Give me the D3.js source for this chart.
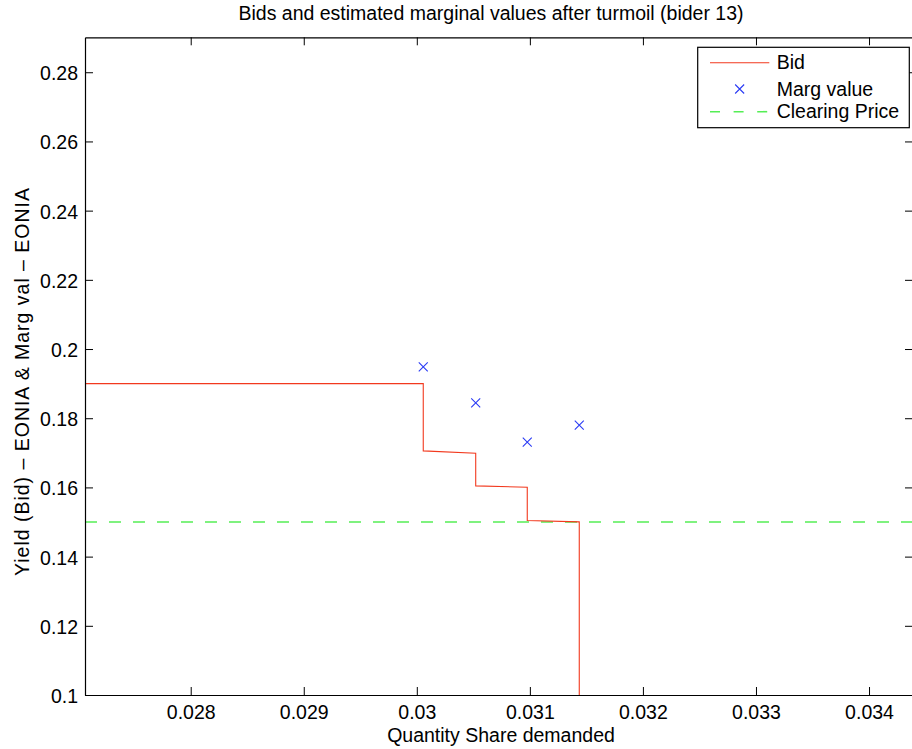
<!DOCTYPE html>
<html>
<head>
<meta charset="utf-8">
<script src="https://cdn.jsdelivr.net/npm/d3@7"></script>
<style>
  html, body { margin: 0; padding: 0; background: #fff; }
  svg { display: block; }
  text { font-family: "Liberation Sans", Arial, Helvetica, sans-serif; fill: #000; }
</style>
</head>
<body>
<script>
// ---- data ----
const bidQuantity = [0.0270, 0.030057, 0.030057, 0.030521, 0.030521, 0.030977, 0.030977, 0.031437, 0.031437];
const bidYield    = [0.1900, 0.1900,   0.17056,  0.16990,  0.16044,  0.16006,  0.15043,  0.15003,  0.1000];
const margQuantity = [0.030057, 0.030521, 0.030977, 0.031437];
const margValue    = [0.19485,  0.18444,  0.17308,  0.17800];
const clearingPrice = 0.15;
const xDomain = [0.027065, 0.034389];
const yDomain = [0.1, 0.2901];
const xTicks = [0.028, 0.029, 0.030, 0.031, 0.032, 0.033, 0.034];
const xTickLabels = ["0.028", "0.029", "0.03", "0.031", "0.032", "0.033", "0.034"];
const yTicks = [0.10, 0.12, 0.14, 0.16, 0.18, 0.20, 0.22, 0.24, 0.26, 0.28];
const yTickLabels = ["0.1", "0.12", "0.14", "0.16", "0.18", "0.2", "0.22", "0.24", "0.26", "0.28"];
const legendLabels = ["Bid", "Marg value", "Clearing Price"];
const titleText = "Bids and estimated marginal values after turmoil (bider 13)";
const xLabelText = "Quantity Share demanded";
const yLabelText = "Yield (Bid) \u2013 EONIA & Marg val \u2013 EONIA";

// ---- layout ----
const W = 912, H = 749;
const L = 85, R = 913, T = 37.3, B = 695;
const FS = 19.5;
const colBid = "#f2391e", colMarg = "#2b3cf5", colClear = "#55ee55";

const svg = d3.select("body").append("svg").attr("width", W).attr("height", H);

const x = d3.scaleLinear().domain(xDomain).range([L, R]);
const y = d3.scaleLinear().domain(yDomain).range([B, T]);

svg.append("defs").append("clipPath").attr("id", "clip")
  .append("rect").attr("x", L).attr("y", T).attr("width", R - L).attr("height", B - T);

const plot = svg.append("g").attr("clip-path", "url(#clip)");

// clearing price
plot.append("line")
  .attr("x1", x(xDomain[0])).attr("x2", x(xDomain[1]))
  .attr("y1", y(clearingPrice)).attr("y2", y(clearingPrice))
  .attr("stroke", colClear).attr("stroke-width", 1.6).attr("stroke-dasharray", "12,12");

// bid line
const bidPts = bidQuantity.map((q, i) => [q, bidYield[i]]);
plot.append("path")
  .attr("d", d3.line().x(d => x(d[0])).y(d => y(d[1]))(bidPts))
  .attr("fill", "none").attr("stroke", colBid).attr("stroke-width", 1.1);

// marginal value markers
const mk = 4.5;
margQuantity.forEach((q, i) => {
  const cx = x(q), cy = y(margValue[i]);
  plot.append("path")
    .attr("d", `M${cx-mk},${cy-mk}L${cx+mk},${cy+mk}M${cx-mk},${cy+mk}L${cx+mk},${cy-mk}`)
    .attr("stroke", colMarg).attr("stroke-width", 1.1).attr("fill", "none");
});

// axes
function styleAxis(g) {
  g.selectAll("path.domain").attr("stroke", "#000").attr("stroke-width", 1.2);
  g.selectAll(".tick line").attr("stroke", "#000").attr("stroke-width", 1);
  g.selectAll("text").style("font-family", '"Liberation Sans", Arial, sans-serif')
    .style("font-size", FS + "px").attr("fill", "#000");
}
const gx = svg.append("g").attr("transform", `translate(0,${B})`)
  .call(d3.axisBottom(x).tickValues(xTicks).tickFormat((d, i) => xTickLabels[i])
    .tickSize(-8).tickSizeOuter(0).tickPadding(10));
gx.call(styleAxis);
gx.selectAll("text").attr("y", 10.5).attr("dy", "0.71em");

const gy = svg.append("g").attr("transform", `translate(${L},0)`)
  .call(d3.axisLeft(y).tickValues(yTicks).tickFormat((d, i) => yTickLabels[i])
    .tickSize(-8).tickSizeOuter(0).tickPadding(7));
gy.call(styleAxis);
gy.selectAll("text").attr("dy", "0.38em");

const gt = svg.append("g").attr("transform", `translate(0,${T})`)
  .call(d3.axisTop(x).tickValues(xTicks).tickFormat("").tickSize(-8).tickSizeOuter(0));
gt.call(styleAxis);
const gr = svg.append("g").attr("transform", `translate(${R},0)`)
  .call(d3.axisRight(y).tickValues(yTicks).tickFormat("").tickSize(-8).tickSizeOuter(0));
gr.call(styleAxis);

// title and labels
svg.append("text").attr("x", 491).attr("y", 20).attr("text-anchor", "middle")
  .style("font-size", FS + "px").text(titleText);
svg.append("text").attr("x", 501).attr("y", 741.5).attr("text-anchor", "middle")
  .style("font-size", FS + "px").text(xLabelText);
svg.append("text").attr("transform", `translate(28.5,382) rotate(-90)`)
  .attr("text-anchor", "middle").attr("textLength", 388).attr("lengthAdjust", "spacing")
  .style("font-size", FS + "px").text(yLabelText);

// legend
const lg = svg.append("g");
lg.append("rect").attr("x", 697.7).attr("y", 47.3).attr("width", 211.6).attr("height", 80.4)
  .attr("fill", "#fff").attr("stroke", "#000").attr("stroke-width", 1.2);
const rowY = [62.7, 89, 111.7];
const lx1 = 710, lx2 = 769.3, tx = 776.7;
lg.append("line").attr("x1", lx1).attr("x2", lx2).attr("y1", rowY[0]).attr("y2", rowY[0])
  .attr("stroke", colBid).attr("stroke-width", 1.1);
{
  const cx = (lx1 + lx2) / 2, cy = rowY[1];
  lg.append("path")
    .attr("d", `M${cx-mk},${cy-mk}L${cx+mk},${cy+mk}M${cx-mk},${cy+mk}L${cx+mk},${cy-mk}`)
    .attr("stroke", colMarg).attr("stroke-width", 1.1).attr("fill", "none");
}
lg.append("line").attr("x1", lx1).attr("x2", lx2).attr("y1", rowY[2]).attr("y2", rowY[2])
  .attr("stroke", colClear).attr("stroke-width", 1.6).attr("stroke-dasharray", "10,13.6");
legendLabels.forEach((t, i) => {
  lg.append("text").attr("x", tx).attr("y", rowY[i]).attr("dy", "0.34em")
    .style("font-size", FS + "px").text(t);
});
</script>
</body>
</html>
